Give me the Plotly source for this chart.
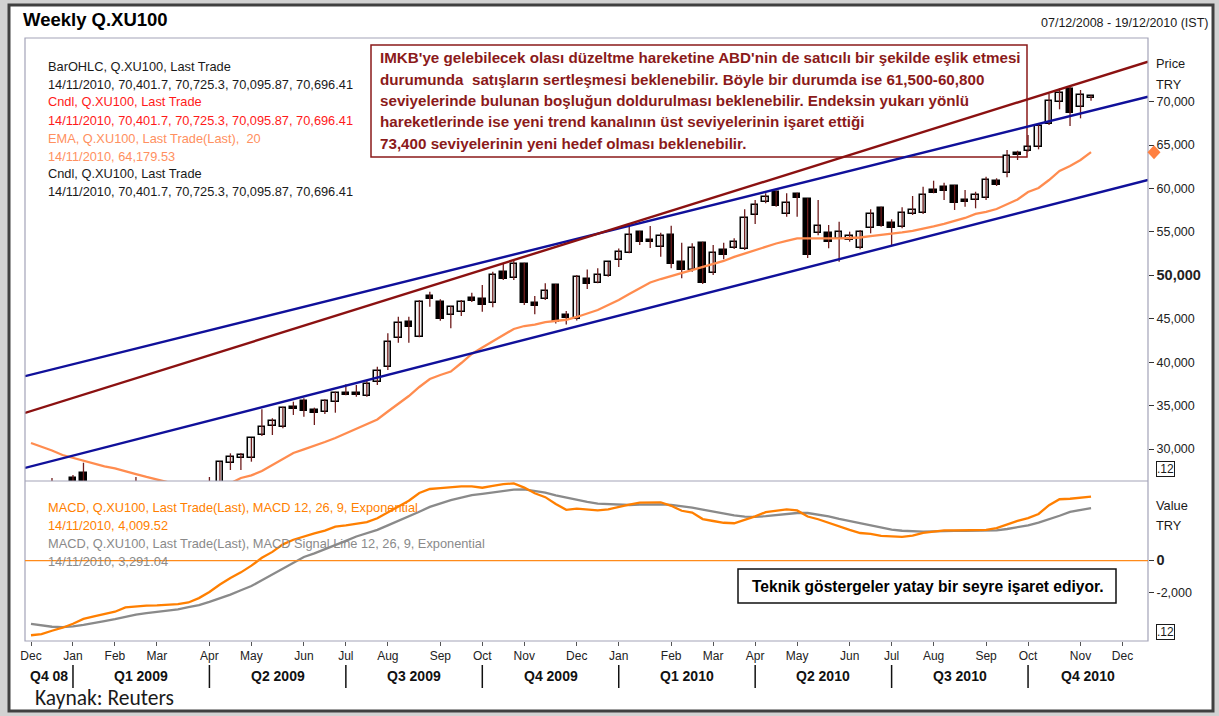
import pandas as pd
import plotly.graph_objects as go

# ---------------- data ----------------
week_start = "2008-12-07"
n_weeks = 102
dates = pd.date_range(week_start, periods=n_weeks, freq="7D")

opens = [24600,25300,25600,26000,26650,27270,25200,24300,24100,25000,
         24600,24300,23000,21500,21900,23200,24400,24800,26100,28420,
         28930,28930,31610,32680,32500,34870,35530,34490,34300,35450,
         36410,36410,36100,37750,39480,42750,44660,42930,47620,46960,
         45430,45810,47350,47270,46840,50340,49650,51300,46780,47240,
         48880,45430,44930,49630,49150,49920,51760,52600,54950,54060,
         53290,54640,51560,50610,53680,50230,52910,53110,52990,56940,
         58470,59620,57060,59360,58750,54830,54830,54140,54060,53110,
         55410,57710,55990,55530,57060,57140,59820,60200,60280,58670,
         58670,58860,60890,61740,64110,64340,64800,67420,69990,71410,
         69340,70401.7]
highs = [25800,26100,26660,26250,27000,28420,25600,24900,25400,25900,
         26780,24600,23300,22300,23600,24800,25300,26780,28550,29500,
         29540,31270,34570,33540,34870,35450,35840,34760,35720,36600,
         37450,37370,37940,39480,43320,45230,45230,47160,48110,47240,
         46460,47160,48000,48880,50410,51380,51840,51450,47620,49080,
         49000,45890,50030,50670,50800,51570,53080,55670,55100,55670,
         54900,55710,53750,53680,53870,53500,53750,54260,57600,58670,
         59440,59740,59440,59510,58860,58670,55790,56170,55020,55210,
         57600,57900,56450,57830,59130,60200,60890,60660,60400,59820,
         59620,61350,61170,64420,64340,66150,67500,70910,71530,71790,
         71330,70725.3]
lows = [24100,24700,25200,25300,25700,24900,23900,23200,23800,24200,
        24000,22700,21000,20900,21700,22900,23900,24500,25900,27580,
        27580,28540,31500,31610,32380,33920,33720,32760,34030,34180,
        36200,36020,36020,37370,39100,42240,42240,42860,46380,44770,
        43900,45310,46930,45810,46310,49460,49460,46580,45510,47160,
        44450,44330,44800,48420,49080,49840,50950,52530,53490,53140,
        52140,50800,49650,50410,49000,50030,51840,53030,52910,55910,
        58290,57900,56750,56750,52000,54600,53110,51560,53870,52990,
        54830,55590,53490,55410,56940,57060,59440,58670,57520,57900,
        57710,58670,60280,61280,63270,64230,64500,67300,69110,67190,
        68070,70095.87]
closes = [25300,25600,26000,25900,26100,25200,24300,24100,25000,24600,
          24300,23000,21500,21900,23200,24400,24800,26100,28470,29050,
          29310,31230,32500,33220,34690,34570,34380,34180,35530,36410,
          36220,36220,37480,39020,42350,44540,44010,46960,47310,44930,
          46310,46960,47070,46580,50030,49540,51300,46840,46460,48230,
          44620,45080,49860,49000,49980,51530,52650,54640,53800,53830,
          54520,51300,50610,53110,49110,52600,52340,53870,56560,58090,
          59050,57980,58290,58860,52340,55670,53870,55020,54520,55020,
          57060,55710,55410,57140,57520,59240,59510,59700,58360,58400,
          59240,60970,60400,63770,63850,64800,67190,70120,71020,68650,
          70760,70696.41]
ema20 = [30690,30290,29830,29310,28970,28590,28270,27990,27760,27470,
         27120,26780,26490,26150,25850,25600,25450,25450,25700,26050,
         26660,26970,27470,28160,28850,29540,29950,30350,30810,31270,
         31790,32300,32820,33400,34320,35180,36100,37140,38060,38520,
         38920,39900,40940,41690,42430,43130,43820,44160,44330,44620,
         44760,44880,45200,45600,46000,46580,47160,47850,48540,49170,
         49570,49920,50300,50670,51010,51300,51650,52110,52510,52910,
         53290,53660,53950,54260,54260,54240,54240,54240,54290,54350,
         54520,54640,54750,54930,55100,55330,55620,55910,56250,56600,
         57060,57290,57630,58210,58730,59590,60050,60970,62010,62580,
         63270,64179.53]
macd = [-4660,-4590,-4380,-4190,-3940,-3640,-3480,-3350,-3190,-2920,
        -2850,-2810,-2790,-2750,-2710,-2610,-2340,-1960,-1490,-1080,
        -730,-310,180,550,1020,1310,1530,1710,1880,2130,
        2210,2290,2410,2650,3030,3400,3750,4230,4480,4530,
        4590,4640,4640,4560,4680,4780,4830,4570,4210,3970,
        3540,3180,3250,3180,3140,3210,3380,3510,3630,3660,
        3650,3430,3120,3010,2600,2480,2370,2340,2540,2770,
        3030,3120,3210,3140,2760,2590,2360,2140,1920,1730,
        1670,1550,1510,1490,1560,1740,1820,1890,1890,1890,
        1890,1930,2030,2260,2490,2660,2920,3470,3840,3870,
        3950,4009.52]
signal = [-3950,-4060,-4130,-4150,-4110,-4010,-3910,-3780,-3660,-3510,
          -3370,-3280,-3200,-3130,-3040,-2910,-2780,-2580,-2370,-2120,
          -1850,-1580,-1230,-870,-530,-140,230,460,710,970,
          1240,1510,1710,1930,2210,2480,2780,3060,3360,3580,
          3790,3940,4100,4180,4260,4350,4440,4460,4370,4250,
          4080,3930,3800,3670,3560,3530,3510,3480,3500,3520,
          3520,3490,3410,3310,3190,3060,2930,2830,2750,2740,
          2780,2850,2930,2980,2980,2890,2770,2610,2480,2340,
          2200,2070,1940,1870,1830,1820,1830,1860,1860,1860,
          1860,1870,1900,1980,2090,2210,2380,2580,2810,3050,
          3150,3291.04]

# hand-drawn trend lines (values at the two ends of the visible range)
x_range = ["2008-12-03", "2010-12-22"]
upper_channel = [38380, 70560]
target_line = [34150, 74600]
lower_channel = [27820, 60970]

price_range = [26316, 77319]
macd_range = [-5020, 4980]
price_ticks = [30000, 35000, 40000, 45000, 50000, 55000, 60000, 65000, 70000]
macd_ticks = [-2000, 0]
quarter_labels = ["Q4 08", "Q1 2009", "Q2 2009", "Q3 2009", "Q4 2009",
                  "Q1 2010", "Q2 2010", "Q3 2010", "Q4 2010"]

note_lines = [
    "IMKB'ye gelebilecek olası düzeltme hareketine ABD'nin de satıcılı bir şekilde eşlik etmesi",
    "durumunda  satışların sertleşmesi beklenebilir. Böyle bir durumda ise 61,500-60,800",
    "seviyelerinde bulunan boşluğun doldurulması beklenebilir. Endeksin yukarı yönlü",
    "hareketlerinde ise yeni trend kanalının üst seviyelerinin işaret ettiği",
    "73,400 seviyelerinin yeni hedef olması beklenebilir.",
]
macd_note = "Teknik göstergeler yatay bir seyre işaret ediyor."

# ---------------- geometry helpers (pixels -> paper) ----------------
FW, FH = 1219, 716
L, R, T, B = 25, 1148, 38, 641
W, H = R - L, B - T
def px(X):
    return (X - L) / W
def py(Y):
    return (B - Y) / H
split = py(481)
price_per_px = (price_range[1] - price_range[0]) / (481 - T)

FONT = "Liberation Sans, Arial, sans-serif"

fig = go.Figure()

# wicks
wx, wy = [], []
for d, h, l in zip(dates, highs, lows):
    wx += [d, d, None]
    wy += [h, l, None]
fig.add_trace(go.Scatter(x=wx, y=wy, mode="lines", line=dict(color="#6e1c1c", width=1.3),
                         xaxis="x", yaxis="y", hoverinfo="skip"))
# bodies
base = [min(o, c) for o, c in zip(opens, closes)]
height = [abs(c - o) for o, c in zip(opens, closes)]
fill = ["#f2f2f2" if c >= o else "#000000" for o, c in zip(opens, closes)]
fig.add_trace(go.Bar(x=dates, y=height, base=base, width=4.3 * 86400000,
                     marker=dict(color=fill, line=dict(color="#000000", width=1.5)),
                     xaxis="x", yaxis="y"))
# EMA
fig.add_trace(go.Scatter(x=dates, y=ema20, mode="lines", line=dict(color="#ff8c4f", width=2.3),
                         xaxis="x", yaxis="y"))
# trend lines
for vals, col in [(upper_channel, "#10109a"), (target_line, "#8b1111"), (lower_channel, "#10109a")]:
    fig.add_trace(go.Scatter(x=x_range, y=vals, mode="lines", line=dict(color=col, width=2.4),
                             xaxis="x", yaxis="y"))
# MACD
fig.add_trace(go.Scatter(x=dates, y=signal, mode="lines", line=dict(color="#8a8a8a", width=2.3),
                         xaxis="x", yaxis="y2"))
fig.add_trace(go.Scatter(x=dates, y=macd, mode="lines", line=dict(color="#ff7f00", width=2.3),
                         xaxis="x", yaxis="y2"))

# month ticks: first weekly bar of every month
all_weeks = pd.date_range(week_start, "2010-12-31", freq="7D")
month_ticks = [d for i, d in enumerate(all_weeks) if i == 0 or d.month != all_weeks[i - 1].month]
month_text = [d.strftime("%b") for d in month_ticks]
q_bounds = [d for d in month_ticks[1:] if d.month in (1, 4, 7, 10)]
edges = [pd.Timestamp(x_range[0])] + q_bounds + [pd.Timestamp(x_range[1])]

shapes = []
annotations = []
# outer frame
shapes.append(dict(type="rect", xref="paper", yref="paper", layer="below",
                   x0=px(9), x1=px(1213), y0=py(711), y1=py(5),
                   fillcolor="white", line=dict(color="#404040", width=3)))
# plot frame & divider
shapes.append(dict(type="rect", xref="paper", yref="paper", x0=0, x1=1, y0=0, y1=1,
                   line=dict(color="#a3a3b8", width=1.2)))
shapes.append(dict(type="line", xref="paper", yref="paper", x0=0, x1=1, y0=split, y1=split,
                   line=dict(color="#a3a3b8", width=1.2)))
# MACD zero line
shapes.append(dict(type="line", xref="paper", yref="y2", x0=0, x1=1, y0=0, y1=0,
                   line=dict(color="#ff8a1a", width=1.2)))
# quarter separators
for d in q_bounds:
    shapes.append(dict(type="line", xref="x", yref="paper", x0=d, x1=d, y0=py(665), y1=py(688),
                       line=dict(color="#111111", width=1.5)))
# note boxes
shapes.append(dict(type="rect", xref="paper", yref="paper", x0=px(371), x1=px(1027),
                   y0=py(157), y1=py(45), fillcolor="white",
                   line=dict(color="#8b1a1a", width=1.5), layer="below"))
shapes.append(dict(type="rect", xref="paper", yref="paper", x0=px(738), x1=px(1116),
                   y0=py(603), y1=py(569), fillcolor="white",
                   line=dict(color="#111111", width=1.5)))
# last EMA value marked on the price axis (diamond)
cx, hw = px(1154), 6.5 / W
hy = 7.0 * price_per_px
ev = ema20[-1]
shapes.append(dict(type="path", xref="paper", yref="y",
                   path=f"M {cx - hw},{ev} L {cx},{ev + hy} L {cx + hw},{ev} L {cx},{ev - hy} Z",
                   fillcolor="#ff8040", line=dict(color="#ff8040", width=0)))

def ann(text, X, Y, size=12.8, color="#1a1a1a", anchor="left", bold=False, family=FONT, **kw):
    if bold:
        text = "<b>" + text + "</b>"
    d = dict(text=text, xref="paper", yref="paper", x=px(X), y=py(Y), xanchor=anchor,
             yanchor="middle", showarrow=False, font=dict(size=size, color=color, family=family))
    d.update(kw)
    annotations.append(d)

ann("Weekly Q.XU100", 21, 20, size=18.5, color="#000000", bold=True)
ann(f"{dates[0].strftime('%d/%m/%Y')} - 19/12/2010 (IST)", 1210, 23, size=12.5, anchor="right")

last = dates[-1].strftime("%d/%m/%Y")
ohlc_txt = f"{last}, {opens[-1]:,}, {highs[-1]:,}, {lows[-1]:,}, {closes[-1]:,}"
legend = [("BarOHLC, Q.XU100, Last Trade", "#1a1a1a"), (ohlc_txt, "#1a1a1a"),
          ("Cndl, Q.XU100, Last Trade", "#ff1a1a"), (ohlc_txt, "#ff1a1a"),
          ("EMA, Q.XU100, Last Trade(Last),  20", "#ff9060"), (f"{last}, {ema20[-1]:,}", "#ff9060"),
          ("Cndl, Q.XU100, Last Trade", "#1a1a1a"), (ohlc_txt, "#1a1a1a")]
for k, (t, c) in enumerate(legend):
    ann(t, 46, 66 + 18 * k, color=c)

mleg = [("MACD, Q.XU100, Last Trade(Last), MACD 12, 26, 9, Exponential", "#ff7f00"),
        (f"{last}, {macd[-1]:,}", "#ff7f00"),
        ("MACD, Q.XU100, Last Trade(Last), MACD Signal Line 12, 26, 9, Exponential", "#8a8a8a"),
        (f"{last}, {signal[-1]:,}", "#8a8a8a")]
for k, (t, c) in enumerate(mleg):
    ann(t, 46, 507 + 18 * k, color=c)

for k, t in enumerate(note_lines):
    ann(t, 378, 58 + 21.3 * k, size=15.2, color="#8b1a1a", bold=True)
ann(macd_note, 928, 586, size=15.6, color="#000000", bold=True, anchor="center")

ann("Price", 1154, 63)
ann("TRY", 1154, 84)
ann("Value", 1154, 505)
ann("TRY", 1154, 525)
for Y in (469, 632):
    annotations.append(dict(text=".12", xref="paper", yref="paper", x=px(1156), y=py(Y),
                            xanchor="left", yanchor="middle", showarrow=False,
                            font=dict(size=12, color="#1a1a1a", family=FONT),
                            bordercolor="#1a1a1a", borderwidth=1, borderpad=0))

for k, lab in enumerate(quarter_labels):
    mid = edges[k] + (edges[k + 1] - edges[k]) / 2
    annotations.append(dict(text="<b>" + lab + "</b>", xref="x", yref="paper", x=mid, y=py(676),
                            xanchor="center", yanchor="middle", showarrow=False,
                            font=dict(size=14, color="#111111", family=FONT)))

ann("Kaynak: Reuters", 33, 698, size=21.5, color="#1a1a1a", family="Carlito, Lato, sans-serif")

price_text = [f"<b><span style='font-size:14.5px'>{v:,}</span></b>" if v == 50000 else f"{v:,}"
              for v in price_ticks]
macd_text = ["<b><span style='font-size:14.5px'>0</span></b>" if v == 0 else f"{v:,}" for v in macd_ticks]

fig.update_layout(
    width=FW, height=FH,
    margin=dict(l=L, r=FW - R, t=T, b=FH - B, pad=0),
    paper_bgcolor="#d2d2d2", plot_bgcolor="rgba(0,0,0,0)",
    showlegend=False, barmode="overlay", bargap=0,
    font=dict(family=FONT, color="#1a1a1a"),
    xaxis=dict(domain=[0, 1], anchor="y2", type="date", range=x_range,
               tickvals=month_ticks, ticktext=month_text, ticks="outside", ticklen=4,
               tickcolor="#555555", tickfont=dict(size=12, color="#222222"),
               showgrid=False, zeroline=False, showline=False,
               rangeslider=dict(visible=False)),
    yaxis=dict(domain=[split, 1], anchor="x", side="right", range=price_range,
               tickvals=price_ticks, ticktext=price_text, ticks="outside", ticklen=5,
               tickcolor="#333333", tickfont=dict(size=12.5, color="#222222"),
               showgrid=False, zeroline=False, showline=False),
    yaxis2=dict(domain=[0, split], anchor="x", side="right", range=macd_range,
                tickvals=macd_ticks, ticktext=macd_text, ticks="outside", ticklen=5,
                tickcolor="#333333", tickfont=dict(size=12.5, color="#222222"),
                showgrid=False, zeroline=False, showline=False),
    shapes=shapes, annotations=annotations,
)

fig.write_html("out.html", config={"displayModeBar": False},
               post_script="document.body.style.margin='0';document.body.style.padding='0';"
                           "document.body.style.overflow='hidden';")
